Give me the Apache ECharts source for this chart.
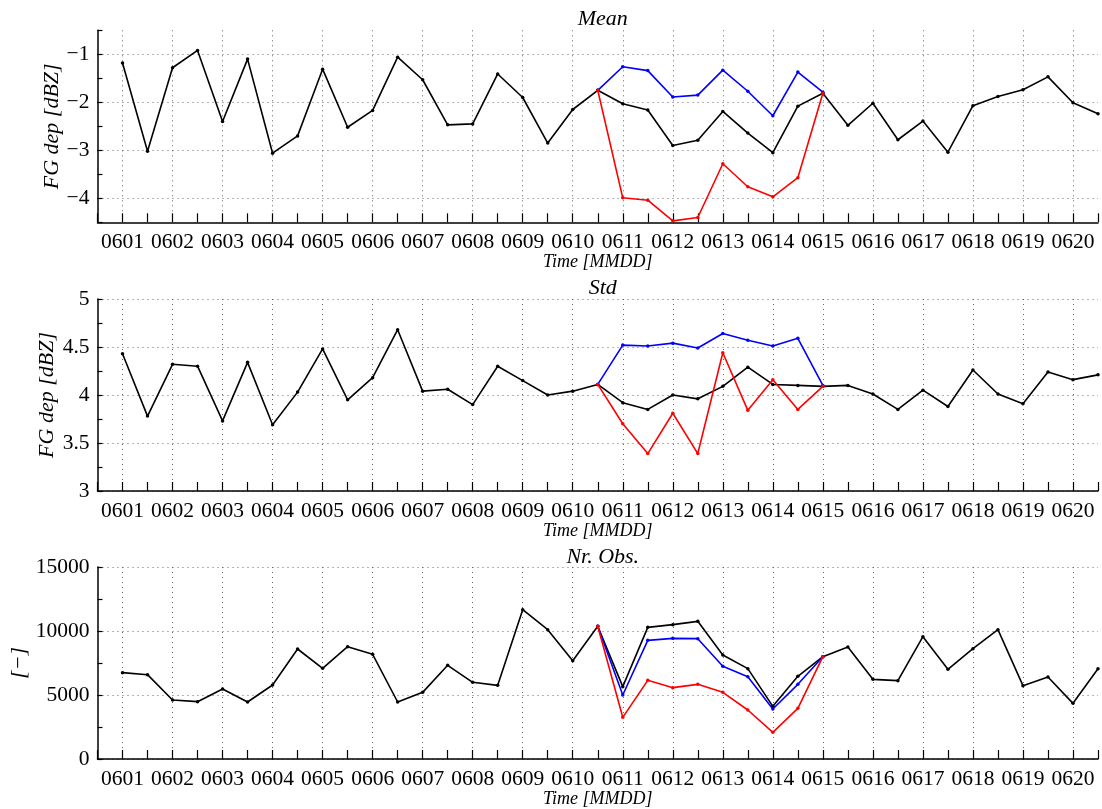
<!DOCTYPE html>
<html>
<head>
<meta charset="utf-8">
<script src="https://cdn.jsdelivr.net/npm/echarts@6/dist/echarts.min.js"></script>
<style>
html,body{margin:0;padding:0;background:#fff;}
#chart{width:1102px;height:809px;}
</style>
</head>
<body>
<div id="chart"></div>
<script>
// Days shown on the time axis (data every 12 h, 0601 00 .. 0620 12)
const days = ['0601','0602','0603','0604','0605','0606','0607','0608','0609','0610',
              '0611','0612','0613','0614','0615','0616','0617','0618','0619','0620'];

// Mean FG departure [dBZ]
const meanBlack = [-1.18,-3.02,-1.28,-0.92,-2.40,-1.10,-3.06,-2.70,-1.31,-2.52,
                   -2.17,-1.06,-1.53,-2.47,-2.45,-1.41,-1.90,-2.85,-2.15,-1.75,
                   -2.03,-2.16,-2.90,-2.79,-2.19,-2.64,-3.05,-2.08,-1.81,-2.48,
                   -2.02,-2.78,-2.39,-3.04,-2.07,-1.88,-1.74,-1.47,-2.01,-2.24];
const meanBlue  = [-1.75,-1.26,-1.34,-1.89,-1.85,-1.33,-1.77,-2.28,-1.37,-1.79];
const meanRed   = [-1.75,-3.99,-4.04,-4.47,-4.40,-3.28,-3.76,-3.97,-3.57,-1.81];

// Std of FG departure [dBZ]
const stdBlack = [4.43,3.78,4.32,4.30,3.73,4.34,3.69,4.03,4.48,3.95,
                  4.18,4.68,4.04,4.06,3.90,4.30,4.15,4.00,4.04,4.11,
                  3.92,3.85,4.00,3.96,4.09,4.29,4.11,4.10,4.09,4.10,
                  4.01,3.85,4.05,3.88,4.26,4.01,3.91,4.24,4.16,4.21];
const stdBlue  = [4.11,4.52,4.51,4.54,4.49,4.64,4.57,4.51,4.59,4.10];
const stdRed   = [4.11,3.70,3.39,3.81,3.39,4.44,3.84,4.16,3.85,4.09];

// Number of observations
const obsBlack = [6745,6588,4609,4479,5469,4453,5781,8594,7083,8776,
                  8177,4453,5208,7318,5990,5755,11667,10104,7682,10365,
                  5651,10286,10495,10755,8125,7057,4114,6458,7995,8750,
                  6224,6120,9557,7005,8620,10104,5729,6406,4349,7057];
const obsBlue  = [10365,5000,9271,9427,9401,7240,6432,3906,5833,7995];
const obsRed   = [10365,3255,6146,5573,5833,5208,3828,2083,3958,7995];

const subStart = 19; // index of first point of the blue/red subsets (0610 12)

const panelTitles = ['Mean', 'Std', 'Nr. Obs.'];
const yNames = ['FG dep [dBZ]', 'FG dep [dBZ]', '[\u2212]'];
const xName = 'Time [MMDD]';

// categories: one before the first point (0531 12) then every 12 h
const categories = ['0531 12'];
days.forEach(d => { categories.push(d + ' 00'); categories.push(d + ' 12'); });

function full(arr) { return [null].concat(arr); }
function sub(arr) {
  const out = new Array(categories.length).fill(null);
  arr.forEach((v, k) => { out[1 + subStart + k] = v; });
  return out;
}

const FONT = '"Liberation Serif", "Times New Roman", serif';
const GRID_COLOR = '#666';
const dotted = [1, 4];

const grids = [
  {left: 97.5, right: 4, top: 30.3, height: 192, containLabel: false, outerBoundsMode: 'none'},
  {left: 97.5, right: 4, top: 299, height: 192, containLabel: false, outerBoundsMode: 'none'},
  {left: 97.5, right: 4, top: 567, height: 192, containLabel: false, outerBoundsMode: 'none'}
];

const yCfg = [
  {min: -4.5, max: -0.5, interval: 0.5, show: v => Number.isInteger(v),
   fmt: v => (v < 0 ? '\u2212' + Math.abs(v) : String(v)), colors: ['transparent', GRID_COLOR], nameGap: 34},
  {min: 3, max: 5, interval: 0.25, show: v => Number.isInteger(v * 2),
   fmt: v => String(v), colors: [GRID_COLOR, 'transparent'], nameGap: 39},
  {min: 0, max: 15000, interval: 2500, show: v => v % 5000 === 0,
   fmt: v => String(v), colors: [GRID_COLOR, 'transparent'], nameGap: 67}
];

const xAxes = grids.map((g, i) => ({
  type: 'category', gridIndex: i, data: categories, boundaryGap: false,
  name: xName, nameLocation: 'middle', nameGap: 31, nameMoveOverlap: false,
  nameTextStyle: {fontFamily: FONT, fontStyle: 'italic', fontSize: 18, color: '#000'},
  axisLine: {lineStyle: {color: '#000', width: 1.5}},
  axisTick: {show: true, inside: true, length: 9, interval: 0, lineStyle: {color: '#000', width: 1.2}},
  axisLabel: {interval: idx => idx % 2 === 1, formatter: v => v.slice(0, 4),
              fontFamily: FONT, fontSize: 21.5, color: '#000', margin: 9},
  splitLine: {show: true, interval: idx => idx % 2 === 1,
              lineStyle: {color: GRID_COLOR, type: dotted, width: 1}}
}));

const yAxes = grids.map((g, i) => ({
  type: 'value', gridIndex: i, min: yCfg[i].min, max: yCfg[i].max, interval: yCfg[i].interval,
  name: yNames[i], nameLocation: 'middle', nameRotate: 90, nameGap: yCfg[i].nameGap, nameMoveOverlap: false,
  nameTextStyle: {fontFamily: FONT, fontStyle: 'italic', fontSize: 22, color: '#000'},
  axisLine: {show: true, lineStyle: {color: '#000', width: 1.5}},
  axisTick: {show: true, inside: true, length: 5, lineStyle: {color: '#000', width: 1.2}},
  axisLabel: {formatter: v => (yCfg[i].show(v) ? yCfg[i].fmt(v) : ''),
              fontFamily: FONT, fontSize: 21.5, color: '#000', margin: 8},
  splitLine: {show: true, lineStyle: {color: yCfg[i].colors, type: dotted, width: 1}}
}));

function line(gi, data, color, z) {
  return {
    type: 'line', xAxisIndex: gi, yAxisIndex: gi, data: data,
    symbol: 'circle', symbolSize: 3.5, showSymbol: true,
    lineStyle: {color: color, width: 1.6}, itemStyle: {color: color},
    emphasis: {disabled: true}, animation: false, z: z
  };
}

const series = [
  line(0, full(meanBlack), '#000', 3), line(0, sub(meanBlue), '#0000ff', 4), line(0, sub(meanRed), '#ff0000', 5),
  line(1, full(stdBlack), '#000', 3), line(1, sub(stdBlue), '#0000ff', 4), line(1, sub(stdRed), '#ff0000', 5),
  line(2, full(obsBlack), '#000', 3), line(2, sub(obsBlue), '#0000ff', 4), line(2, sub(obsRed), '#ff0000', 5)
];

const titleTops = [3, 272, 541];
const titles = panelTitles.map((t, i) => ({
  text: t, left: 597.75, top: titleTops[i], textAlign: 'center',
  textStyle: {fontFamily: FONT, fontStyle: 'italic', fontWeight: 'normal', fontSize: 22, color: '#000'}
}));

const chart = echarts.init(document.getElementById('chart'), null, {renderer: 'canvas'});
chart.setOption({
  animation: false,
  backgroundColor: '#fff',
  title: titles,
  grid: grids,
  xAxis: xAxes,
  yAxis: yAxes,
  series: series
});
</script>
</body>
</html>
